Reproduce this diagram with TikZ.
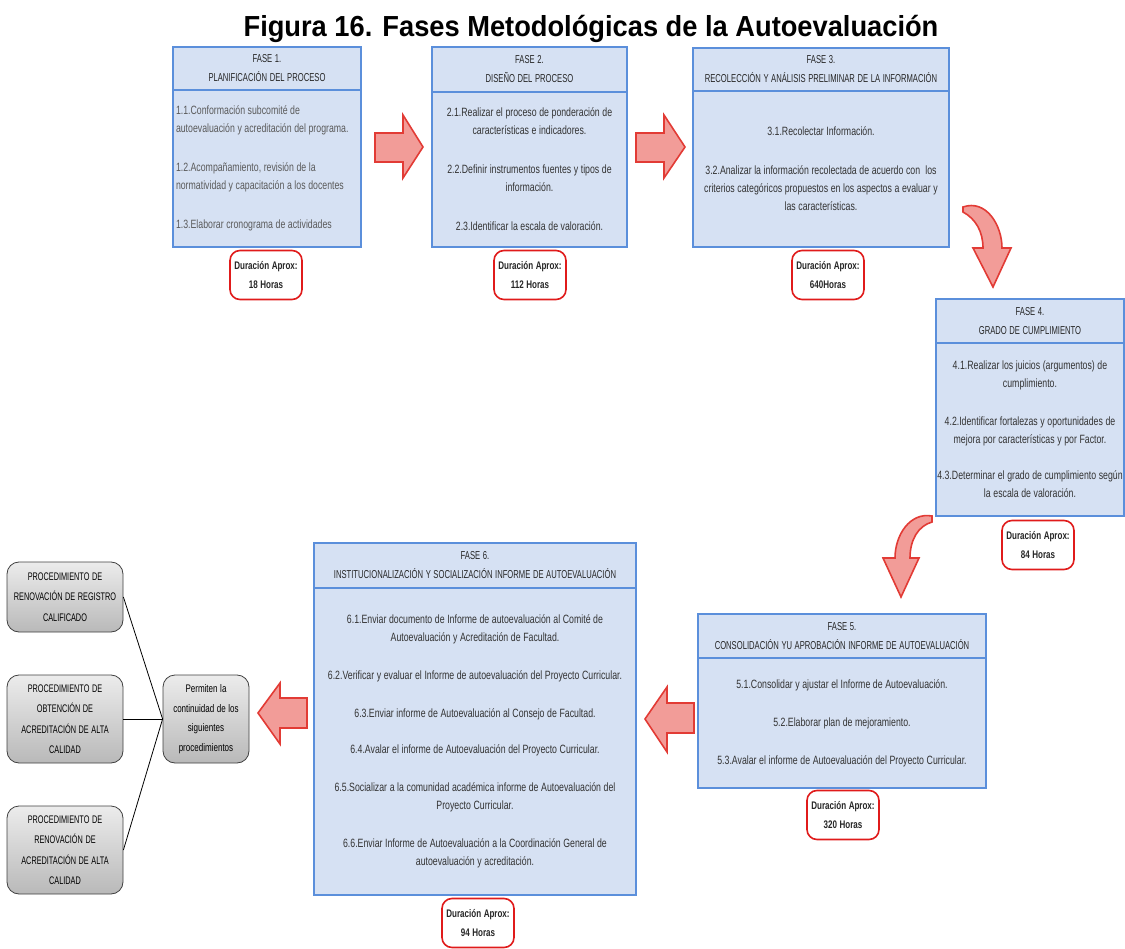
\documentclass[tikz,border=0pt]{standalone}
\usepackage{fontspec}
\setmainfont{Liberation Sans}[FakeStretch=0.73]
\newfontfamily\titlefont{Liberation Sans}[FakeStretch=0.94]
\newfontfamily\headfont{Liberation Sans}[FakeStretch=0.665]
\definecolor{boxfill}{HTML}{D6E1F3}
\definecolor{boxline}{HTML}{5B8FDB}
\definecolor{arrfill}{HTML}{F29C98}
\definecolor{arrline}{HTML}{E23B35}
\definecolor{durline}{HTML}{E01B1B}
\definecolor{txt}{HTML}{333333}
\definecolor{txtlight}{HTML}{5A5A5A}
\begin{document}
\begin{tikzpicture}[x=1pt,y=-1pt,
 tight/.style={execute at begin node={\spaceskip=2.6pt\relax\xspaceskip=2.6pt\relax}},
 phead/.style={tight, draw=boxline, line width=1.6pt, fill=boxfill, inner xsep=2pt, inner ysep=0pt, align=center, font=\headfont\fontsize{11.5}{19}\selectfont, text=black!85},
 pbody/.style={tight, draw=boxline, line width=1.6pt, fill=boxfill, inner xsep=2pt, inner ysep=0pt, align=center, font=\fontsize{12}{18}\selectfont, text=txt},
 dur/.style={tight, draw=durline, line width=1.6pt, fill=white, rounded corners=10pt, minimum width=72pt, minimum height=49pt, align=center, font=\bfseries\fontsize{11}{19}\selectfont, inner sep=0pt, text=black!85},
 gbox/.style={tight, draw=black!75, line width=0.8pt, rounded corners=12pt, top color=gray!15, bottom color=gray!55, minimum width=116pt, align=center, font=\headfont\fontsize{11}{20.5}\selectfont, inner sep=0pt, text=black},
 barrow/.style={fill=arrfill, draw=arrline, line width=1.6pt, line join=miter},
 link/.style={draw=black, line width=0.8pt}
]
\useasboundingbox (0,0) rectangle (1125,949);

\node[font=\titlefont\bfseries\fontsize{29}{29}\selectfont] (title) at (591,29) {Figura 16. Fases Metodológicas de la Autoevaluación};

% FASE 1
\node[phead, text width=184pt, minimum height=43pt] (f1h) at (267,68.5) {FASE 1.\\PLANIFICACIÓN DEL PROCESO};
\node[pbody, text width=182pt, inner xsep=3pt, minimum height=157pt, align=left, text=txtlight] (f1b) at (267,168.5) {1.1.Conformación subcomité de\\autoevaluación y acreditación del programa.\\[21pt]1.2.Acompañamiento, revisión de la\\normatividad y capacitación a los docentes\\[21pt]1.3.Elaborar cronograma de actividades};
\node[dur] (d1) at (266,275) {Duración Aprox:\\18 Horas};

% FASE 2
\node[phead, text width=191pt, minimum height=45pt] (f2h) at (529.5,69.5) {FASE 2.\\DISEÑO DEL PROCESO};
\node[pbody, text width=191pt, minimum height=155pt] (f2b) at (529.5,169.5) {2.1.Realizar el proceso de ponderación de\\características e indicadores.\\[21pt]2.2.Definir instrumentos fuentes y tipos de\\información.\\[21pt]2.3.Identificar la escala de valoración.};
\node[dur] (d2) at (530,275) {Duración Aprox:\\112 Horas};

% FASE 3
\node[phead, text width=252pt, minimum height=43pt] (f3h) at (821,69.5) {FASE 3.\\RECOLECCIÓN Y ANÁLISIS PRELIMINAR DE LA INFORMACIÓN};
\node[pbody, text width=252pt, minimum height=156pt] (f3b) at (821,169) {3.1.Recolectar Información.\\[21pt]3.2.Analizar la información recolectada de acuerdo con~ los\\criterios categóricos propuestos en los aspectos a evaluar y\\las características.};
\node[dur] (d3) at (828,275) {Duración Aprox:\\640Horas};

% FASE 4
\node[phead, text width=184pt, minimum height=44pt] (f4h) at (1030,321) {FASE 4.\\GRADO DE CUMPLIMIENTO};
\node[pbody, text width=188pt, inner xsep=0pt, minimum height=173pt] (f4b) at (1030,429.5) {4.1.Realizar los juicios (argumentos) de\\cumplimiento.\\[20pt]4.2.Identificar fortalezas y oportunidades de\\mejora por características y por Factor.\\[18pt]4.3.Determinar el grado de cumplimiento según\\la escala de valoración.};
\node[dur] (d4) at (1038,545) {Duración Aprox:\\84 Horas};

% FASE 5
\node[phead, text width=284pt, minimum height=44pt] (f5h) at (842,636) {FASE 5.\\CONSOLIDACIÓN YU APROBACIÓN INFORME DE AUTOEVALUACIÓN};
\node[pbody, text width=284pt, minimum height=130pt] (f5b) at (842,723) {5.1.Consolidar y ajustar el Informe de Autoevaluación.\\[20pt]5.2.Elaborar plan de mejoramiento.\\[20pt]5.3.Avalar el informe de Autoevaluación del Proyecto Curricular.};
\node[dur] (d5) at (843,815) {Duración Aprox:\\320 Horas};

% FASE 6
\node[phead, text width=318pt, minimum height=45pt] (f6h) at (475,565.5) {FASE 6.\\INSTITUCIONALIZACIÓN Y SOCIALIZACIÓN INFORME DE AUTOEVALUACIÓN};
\node[pbody, text width=318pt, minimum height=307pt] (f6b) at (475,741.5) {6.1.Enviar documento de Informe de autoevaluación al Comité de\\Autoevaluación y Acreditación de Facultad.\\[20pt]6.2.Verificar y evaluar el Informe de autoevaluación del Proyecto Curricular.\\[20pt]6.3.Enviar informe de Autoevaluación al Consejo de Facultad.\\[18pt]6.4.Avalar el informe de Autoevaluación del Proyecto Curricular.\\[20pt]6.5.Socializar a la comunidad académica informe de Autoevaluación del\\Proyecto Curricular.\\[20pt]6.6.Enviar Informe de Autoevaluación a la Coordinación General de\\autoevaluación y acreditación.};
\node[dur] (d6) at (478,923) {Duración Aprox:\\94 Horas};

% gray procedure boxes
\node[gbox, minimum height=70pt] (g1) at (65,597) {PROCEDIMIENTO DE\\RENOVACIÓN DE REGISTRO\\CALIFICADO};
\node[gbox, minimum height=88pt] (g2) at (65,719) {PROCEDIMIENTO DE\\OBTENCIÓN DE\\ACREDITACIÓN DE ALTA\\CALIDAD};
\node[gbox, minimum height=88pt] (g3) at (65,850) {PROCEDIMIENTO DE\\RENOVACIÓN DE\\ACREDITACIÓN DE ALTA\\CALIDAD};
\node[gbox, minimum width=86pt, minimum height=88pt, font=\fontsize{11}{19.5}\selectfont] (g4) at (206,719) {Permiten la\\continuidad de los\\siguientes\\procedimientos};

\draw[link] (g1.east) -- (g4.west);
\draw[link] (g2.east) -- (g4.west);
\draw[link] (g3.east) -- (g4.west);

% block arrows
\draw[barrow] (375,133) -- (403,133) -- (403,115) -- (423,147) -- (403,178) -- (403,162) -- (375,162) -- cycle;
\draw[barrow] (636,133) -- (664,133) -- (664,115) -- (685,147) -- (664,178) -- (664,162) -- (636,162) -- cycle;
\draw[barrow] (963,207) .. controls (986,199) and (1002,225) .. (1002,248) -- (1011,248) -- (993,287) -- (973,248) -- (983,248) .. controls (983,232) and (976,219) .. (963,212) -- cycle;
\draw[barrow] (932,516) .. controls (910,512) and (895,535) .. (895,558) -- (883,558) -- (901,597) -- (919,558) -- (910,558) .. controls (910,540) and (918,526) .. (932,522) -- cycle;
\draw[barrow] (694,703) -- (667,703) -- (667,687) -- (645,719) -- (667,752) -- (667,733) -- (694,733) -- cycle;
\draw[barrow] (307,698) -- (280,698) -- (280,683) -- (258,713) -- (280,744) -- (280,728) -- (307,728) -- cycle;
\end{tikzpicture}
\end{document}
